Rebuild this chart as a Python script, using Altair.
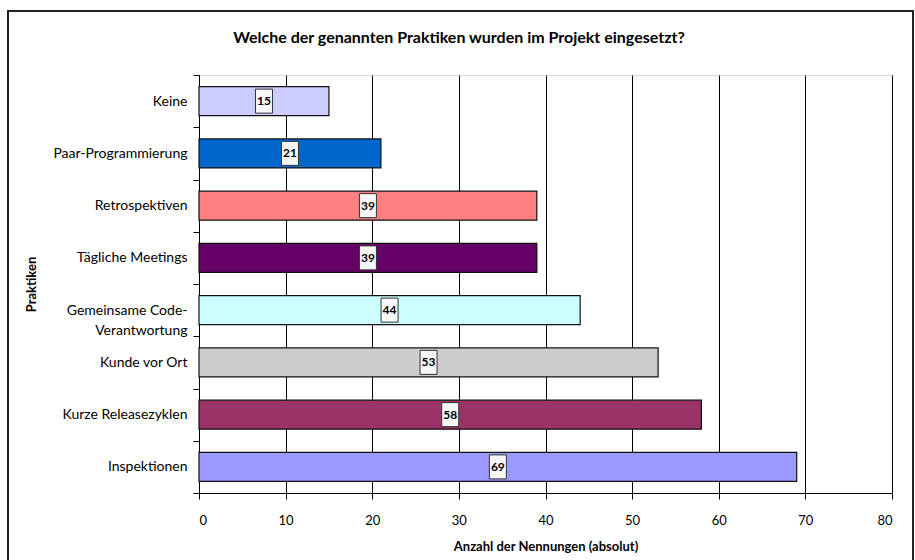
import altair as alt
import pandas as pd

categories = ["Keine", "Paar-Programmierung", "Retrospektiven", "Tägliche Meetings",
              "Gemeinsame Code-Verantwortung", "Kunde vor Ort", "Kurze Releasezyklen", "Inspektionen"]
values = [15, 21, 39, 39, 44, 53, 58, 69]
colors = ["#CCCCFF", "#0066CC", "#FF8080", "#660066", "#CCFFFF", "#CCCCCC", "#993366", "#9999FF"]
x_ticks = [0, 10, 20, 30, 40, 50, 60, 70, 80]
title_text = "Welche der genannten Praktiken wurden im Projekt eingesetzt?"

FONT = "Lato"

df = pd.DataFrame({"Praktik": categories, "Anzahl": values})
df["mid"] = df["Anzahl"] / 2

W, H = 693, 418

y_enc = alt.Y(
    "Praktik:N",
    sort=categories,
    scale=alt.Scale(paddingInner=0, paddingOuter=0),
    axis=alt.Axis(
        title="Praktiken",
        titleFont=FONT, titleFontSize=13, titleFontWeight="bold", titleColor="black",
        titlePadding=14,
        labelFont=FONT, labelFontSize=14, labelColor="black", labelPadding=6,
        labelLineHeight=20,
        labelExpr="datum.label == 'Gemeinsame Code-Verantwortung' ? ['Gemeinsame Code-', 'Verantwortung'] : datum.label",
        tickBand="extent", tickColor="black", tickSize=6,
        domainColor="black", grid=False,
    ),
)

x_scale = alt.Scale(domain=[0, 80], nice=False)

bars = alt.Chart(df).mark_bar(size=29, stroke="#111111", strokeWidth=1.2).encode(
    x=alt.X(
        "Anzahl:Q",
        scale=x_scale,
        axis=alt.Axis(
            values=x_ticks, title="Anzahl der Nennungen (absolut)",
            titleFont=FONT, titleFontSize=13, titleFontWeight="bold", titleColor="black",
            titlePadding=13,
            labelFont=FONT, labelFontSize=13, labelColor="black", labelPadding=15,
            tickColor="black", tickSize=6, domainColor="black",
            grid=True, gridColor="black", gridWidth=1, gridOpacity=1,
        ),
    ),
    y=y_enc,
    color=alt.Color("Praktik:N", scale=alt.Scale(domain=categories, range=colors), legend=None),
)

boxes = alt.Chart(df).mark_rect(width=17, height=24, fill="#F8F8F8", stroke="#333333", strokeWidth=1).encode(
    x=alt.X("mid:Q", scale=x_scale),
    y=alt.Y("Praktik:N", sort=categories),
)

labels = alt.Chart(df).mark_text(font=FONT, fontSize=12, fontWeight="bold", color="black",
                                 align="center", baseline="middle").encode(
    x=alt.X("mid:Q", scale=x_scale),
    y=alt.Y("Praktik:N", sort=categories),
    text=alt.Text("Anzahl:Q"),
)

frame = alt.Chart(pd.DataFrame({"f": [0]})).mark_rect(
    fill=None, fillOpacity=0, stroke="#222222", strokeWidth=2
).encode(
    x=alt.value(-191), x2=alt.value(714), y=alt.value(-64), y2=alt.value(495)
)

title = alt.Chart(pd.DataFrame({"t": [title_text]})).mark_text(
    font=FONT, fontSize=16, fontWeight="bold", color="black", align="center", baseline="middle"
).encode(
    text="t:N", x=alt.value(260), y=alt.value(-37)
)

chart = alt.layer(frame, bars, boxes, labels, title).properties(
    width=W, height=H,
    autosize=alt.AutoSizeParams(type="none"),
    padding={"left": 199, "top": 75, "right": 23, "bottom": 67},
).configure_view(stroke="black", strokeWidth=1).configure(background="white")

chart.save("out.html", embed_options={"renderer": "svg", "actions": False})
